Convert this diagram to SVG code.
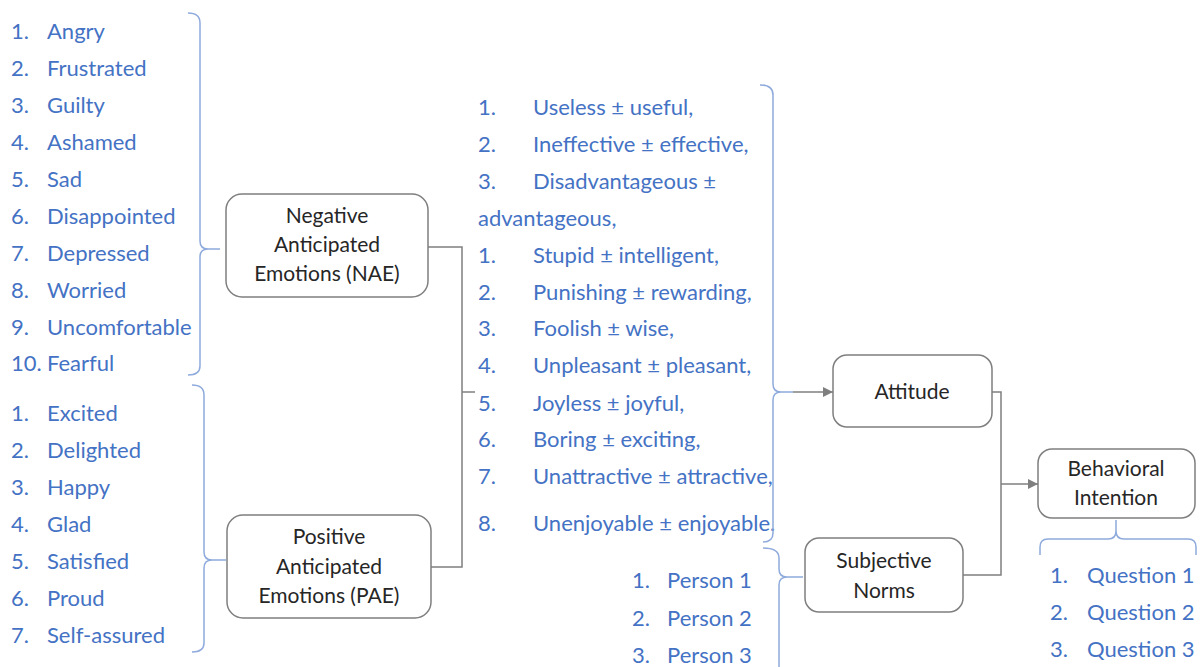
<svg xmlns="http://www.w3.org/2000/svg" width="1200" height="667" viewBox="0 0 1200 667">
  <defs>
    <marker id="arrow" viewBox="0 0 10 10" refX="10" refY="5" markerWidth="10" markerHeight="10" markerUnits="userSpaceOnUse" orient="auto">
      <path d="M0,0 L10,5 L0,10 z" fill="#7f7f7f"/>
    </marker>
    <style>
      .item { font-family: Lato, "Liberation Sans", sans-serif; font-size: 22px; fill: #4472c4; }
      .label { font-family: Lato, "Liberation Sans", sans-serif; font-size: 21px; fill: #262626; text-anchor: middle; }
      .box { fill: #ffffff; stroke: #7f7f7f; stroke-width: 1.5; }
      .brace { fill: none; stroke: #8faadc; stroke-width: 1.5; }
      .link { fill: none; stroke: #7f7f7f; stroke-width: 1.5; }
    </style>
  </defs>
  <rect width="1200" height="667" fill="#ffffff"/>

  <!-- Negative emotion items -->
  <g id="nae-items" class="item">
    <text x="11" y="39">1.</text><text x="47" y="39">Angry</text>
    <text x="11" y="76">2.</text><text x="47" y="76">Frustrated</text>
    <text x="11" y="113">3.</text><text x="47" y="113">Guilty</text>
    <text x="11" y="150">4.</text><text x="47" y="150">Ashamed</text>
    <text x="11" y="187">5.</text><text x="47" y="187">Sad</text>
    <text x="11" y="224">6.</text><text x="47" y="224">Disappointed</text>
    <text x="11" y="261">7.</text><text x="47" y="261">Depressed</text>
    <text x="11" y="298">8.</text><text x="47" y="298">Worried</text>
    <text x="11" y="335">9.</text><text x="47" y="335">Uncomfortable</text>
    <text x="11" y="371">10.</text><text x="47" y="371">Fearful</text>
  </g>

  <!-- Positive emotion items -->
  <g id="pae-items" class="item">
    <text x="11" y="421">1.</text><text x="47" y="421">Excited</text>
    <text x="11" y="458">2.</text><text x="47" y="458">Delighted</text>
    <text x="11" y="495">3.</text><text x="47" y="495">Happy</text>
    <text x="11" y="532">4.</text><text x="47" y="532">Glad</text>
    <text x="11" y="569">5.</text><text x="47" y="569">Satisfied</text>
    <text x="11" y="606">6.</text><text x="47" y="606">Proud</text>
    <text x="11" y="643">7.</text><text x="47" y="643">Self-assured</text>
  </g>

  <!-- Attitude items -->
  <g id="attitude-items" class="item">
    <text x="478" y="115">1.</text><text x="533" y="115">Useless ± useful,</text>
    <text x="478" y="152">2.</text><text x="533" y="152">Ineffective ± effective,</text>
    <text x="478" y="189">3.</text><text x="533" y="189">Disadvantageous ±</text>
    <text x="478" y="226">advantageous,</text>
    <text x="478" y="263">1.</text><text x="533" y="263">Stupid ± intelligent,</text>
    <text x="478" y="300">2.</text><text x="533" y="300">Punishing ± rewarding,</text>
    <text x="478" y="336">3.</text><text x="533" y="336">Foolish ± wise,</text>
    <text x="478" y="373">4.</text><text x="533" y="373">Unpleasant ± pleasant,</text>
    <text x="478" y="411">5.</text><text x="533" y="411">Joyless ± joyful,</text>
    <text x="478" y="447">6.</text><text x="533" y="447">Boring ± exciting,</text>
    <text x="478" y="484">7.</text><text x="533" y="484">Unattractive ± attractive,</text>
    <text x="478" y="531">8.</text><text x="533" y="531">Unenjoyable ± enjoyable.</text>
  </g>

  <!-- Subjective norm items -->
  <g id="sn-items" class="item">
    <text x="632" y="588">1.</text><text x="667" y="588">Person 1</text>
    <text x="632" y="626">2.</text><text x="667" y="626">Person 2</text>
    <text x="632" y="663">3.</text><text x="667" y="663">Person 3</text>
  </g>

  <!-- Behavioral intention items -->
  <g id="bi-items" class="item">
    <text x="1050" y="583">1.</text><text x="1087" y="583">Question 1</text>
    <text x="1050" y="620">2.</text><text x="1087" y="620">Question 2</text>
    <text x="1050" y="657">3.</text><text x="1087" y="657">Question 3</text>
  </g>

  <!-- Braces grouping the item lists -->
  <g id="braces" class="brace">
    <path d="M188,13 Q200,13 200,23 V241 Q200,249 208,249 H220 M208,249 Q200,249 200,257 V366 Q200,375 188,375"/>
    <path d="M192,385 Q204,385 204,395 V552 Q204,560 212,560 H226 M212,560 Q204,560 204,568 V643 Q204,652 192,652"/>
    <path d="M760,85 Q773,85 773,95 V384 Q773,392 781,392 H793 M781,392 Q773,392 773,400 V533 Q773,542 763,542"/>
    <path d="M763,548 Q779,548 779,558 V569 Q779,577 787,577 H803 M787,577 Q779,577 779,585 V667"/>
    <path d="M1040,555 V547 Q1040,539 1048,539 H1108 Q1116,539 1116,531 V520 M1116,531 Q1116,539 1124,539 H1188 Q1196,539 1196,547 V555"/>
  </g>

  <!-- Connectors -->
  <g id="connectors" class="link">
    <path d="M428,247 H462 V567 H431"/>
    <path d="M462,392 H475"/>
    <path d="M793,392 H833" marker-end="url(#arrow)"/>
    <path d="M992,392 H1001 V575 H963"/>
    <path d="M1001,484 H1038" marker-end="url(#arrow)"/>
  </g>

  <!-- Nodes -->
  <g id="node-nae">
    <rect class="box" x="226" y="194" width="202" height="103" rx="16"/>
    <text class="label" x="327" y="223">Negative</text>
    <text class="label" x="327" y="252">Anticipated</text>
    <text class="label" x="327" y="281">Emotions (NAE)</text>
  </g>
  <g id="node-pae">
    <rect class="box" x="227" y="515" width="204" height="103" rx="16"/>
    <text class="label" x="329" y="544">Positive</text>
    <text class="label" x="329" y="574">Anticipated</text>
    <text class="label" x="329" y="603">Emotions (PAE)</text>
  </g>
  <g id="node-attitude">
    <rect class="box" x="833" y="355" width="159" height="72" rx="14"/>
    <text class="label" x="912" y="399">Attitude</text>
  </g>
  <g id="node-sn">
    <rect class="box" x="805" y="538" width="158" height="74" rx="14"/>
    <text class="label" x="884" y="568">Subjective</text>
    <text class="label" x="884" y="598">Norms</text>
  </g>
  <g id="node-bi">
    <rect class="box" x="1038" y="449" width="157" height="69" rx="14"/>
    <text class="label" x="1116" y="476">Behavioral</text>
    <text class="label" x="1116" y="505">Intention</text>
  </g>
</svg>
